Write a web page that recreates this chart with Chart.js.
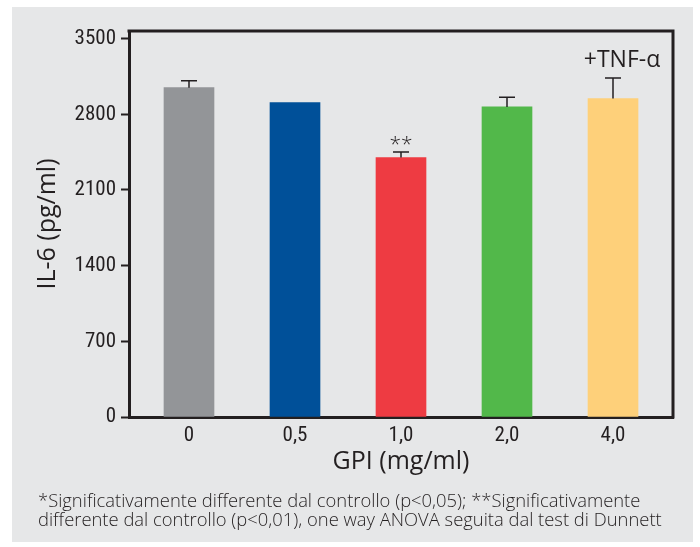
<!DOCTYPE html>
<html>
<head>
<meta charset="utf-8">
<script src="https://cdn.jsdelivr.net/npm/chart.js@4"></script>
<style>
  html, body { margin: 0; padding: 0; background: #fff; }
  #wrap { position: relative; width: 700px; height: 547px; }
  #panel { position: absolute; left: 12px; top: 7px; width: 681px; height: 535px; background: #e6e7e8; }
  #chart { position: absolute; left: 0; top: 0; }
  #note {
    position: absolute; left: 38px; top: 490px;
    font-family: 'Open Sans', 'Noto Sans', sans-serif;
    font-weight: 300; font-size: 18.4px; line-height: 19px; color: #231f20;
    white-space: nowrap;
  }
</style>
</head>
<body>
<div id="wrap">
  <div id="panel"></div>
  <canvas id="chart" width="700" height="547"></canvas>
  <div id="note">*Significativamente differente dal controllo (p&lt;0,05); **Significativamente<br>differente dal controllo (p&lt;0,01), one way ANOVA seguita dal test di Dunnett</div>
</div>
<script>
// data
const doses = ['0', '0,5', '1,0', '2,0', '4,0'];
const il6 = [3046, 2907, 2400, 2868, 2945];
const il6Err = [65, 0, 50, 90, 190];
const marks = ['', '', '**', '', '+TNF-\u03b1'];
const barColors = ['#939598', '#005099', '#ee3b42', '#52b84a', '#fed07a'];
const yTicks = [0, 700, 1400, 2100, 2800, 3500];

const ink = '#231f20';
const narrow = "'Roboto Condensed', 'DejaVu Sans Condensed', sans-serif";
const wide = "'Open Sans', 'Noto Sans', sans-serif";

// frame, error bars and the small notes over the bars
const extras = {
  id: 'extras',
  afterDatasetsDraw(chart) {
    const { ctx, chartArea: a, scales: { x, y } } = chart;
    ctx.save();
    ctx.strokeStyle = ink;
    ctx.lineWidth = 3;
    ctx.beginPath();
    ctx.moveTo(a.left - 1.5, a.top);
    ctx.lineTo(a.right, a.top);
    ctx.lineTo(a.right, a.bottom + 1.5);
    ctx.stroke();

    ctx.lineWidth = 1.5;
    il6.forEach((v, i) => {
      const cx = x.getPixelForValue(i);
      const top = y.getPixelForValue(v + il6Err[i]);
      if (il6Err[i]) {
        ctx.beginPath();
        ctx.moveTo(cx, y.getPixelForValue(v));
        ctx.lineTo(cx, top);
        ctx.moveTo(cx - 8, top);
        ctx.lineTo(cx + 8, top);
        ctx.stroke();
      }
      if (marks[i]) {
        ctx.fillStyle = ink;
        ctx.textAlign = 'center';
        ctx.textBaseline = 'alphabetic';
        if (marks[i] === '**') {
          ctx.font = '300 21px ' + wide;
          ctx.fillText(marks[i], cx, top - 1);
        } else {
          ctx.font = '23px ' + wide;
          ctx.fillText(marks[i], cx + 9, top - 11);
        }
      }
    });
    ctx.restore();
  }
};

new Chart(document.getElementById('chart'), {
  type: 'bar',
  data: {
    datasets: [{
      data: il6.map((v, i) => ({ x: i, y: v })),
      backgroundColor: barColors,
      borderWidth: 0,
      barThickness: 50
    }]
  },
  options: {
    responsive: false,
    animation: false,
    events: [],
    layout: { padding: { left: 12, right: 27, top: 31, bottom: 0 } },
    plugins: { legend: { display: false }, tooltip: { enabled: false } },
    scales: {
      x: {
        type: 'linear',
        offset: false,
        min: -0.566,
        max: 4.566,
        afterBuildTicks: s => { s.ticks = doses.map((d, i) => ({ value: i })); },
        afterFit: s => { s.height = 130; },
        ticks: {
          callback: v => doses[v],
          color: ink,
          font: { family: narrow, size: 21 },
          padding: 6,
          maxRotation: 0,
          autoSkip: false
        },
        grid: { display: true, drawOnChartArea: false, drawTicks: false },
        border: { color: ink, width: 3 },
        title: {
          display: true,
          text: 'GPI (mg/ml)',
          color: ink,
          font: { family: wide, size: 25 },
          padding: { bottom: 70 }
        }
      },
      y: {
        min: 0,
        max: 3570,
        afterBuildTicks: s => { s.ticks = yTicks.map(v => ({ value: v })); },
        afterFit: s => { s.width = 117; },
        ticks: {
          callback: v => String(v),
          color: ink,
          font: { family: narrow, size: 21 },
          padding: 5
        },
        grid: { drawOnChartArea: false, tickLength: 8, tickWidth: 2, tickColor: ink },
        border: { color: ink, width: 3 },
        title: {
          display: true,
          text: 'IL-6 (pg/ml)',
          color: ink,
          font: { family: wide, size: 25 },
          padding: { top: 21 }
        }
      }
    }
  },
  plugins: [extras]
});
</script>
</body>
</html>
